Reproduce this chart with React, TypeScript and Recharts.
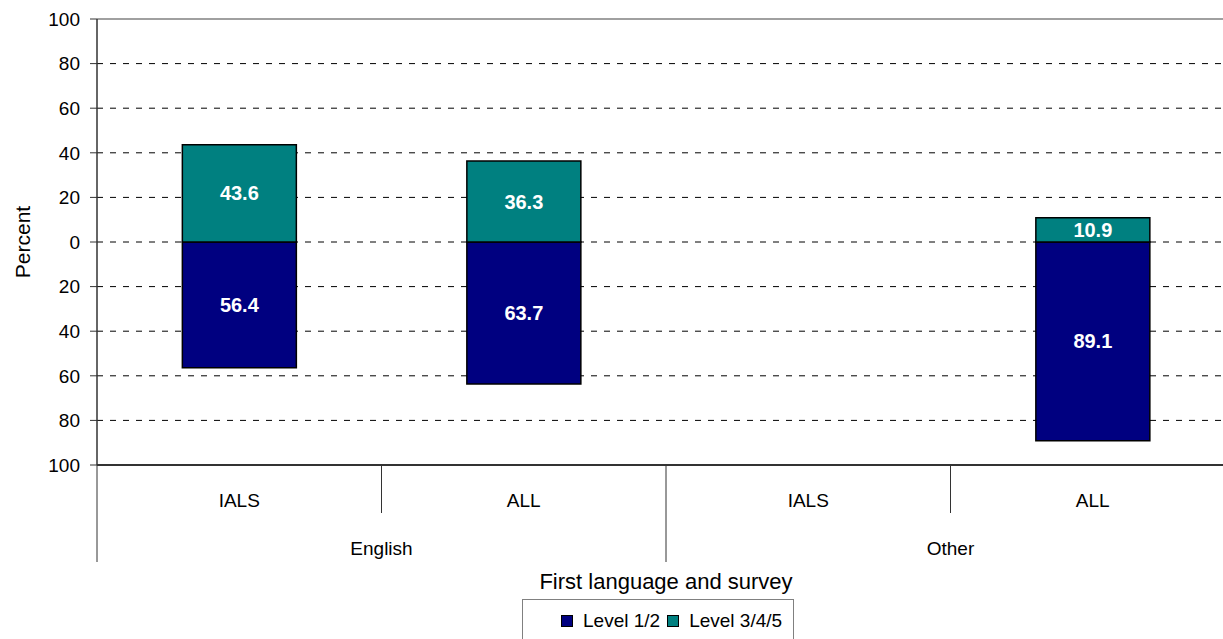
import React from "react";
import { BarChart, Bar, XAxis, YAxis, CartesianGrid, ReferenceLine, Legend, LabelList } from "recharts";

// survey per column, and the first language group each column belongs to
const surveys = ["IALS", "ALL", "IALS", "ALL"];
const languages = ["English", "English", "Other", "Other"];

// percent at each level (IALS for "Other" has no data)
const level12 = [56.4, 63.7, null, 89.1];
const level345 = [43.6, 36.3, null, 10.9];

const yTicks = [-100, -80, -60, -40, -20, 0, 20, 40, 60, 80, 100];
const gridValues = [-80, -60, -40, -20, 0, 20, 40, 60, 80];

const data = surveys.map((survey, i) => ({
    survey,
    lang: languages[i],
    level12: level12[i] == null ? null : -(level12[i] as number),
    level345: level345[i],
}));

const FONT = "'Liberation Sans', Arial, sans-serif";
const CHART_W = 1235;
const CHART_H = 639;
const Y_AXIS_W = 97;
const BAND = (CHART_W - Y_AXIS_W) / surveys.length;

const fmt = (v: any) => (v == null || v === 0 ? "" : Math.abs(Number(v)).toFixed(1));

const SurveyTick = (props: any) => {
    const { x, y, index, payload } = props;
    const left = x - BAND / 2;
    const groupStart = index % 2 === 0;
    return (
        <g>
            <line x1={left} x2={left} y1={y} y2={groupStart ? y + 97 : y + 48} stroke="#333" strokeWidth={1} />
            <text x={x} y={y + 42} textAnchor="middle" fontSize={19} fill="#000" fontFamily={FONT}>
                {payload.value}
            </text>
            {groupStart && (
                <text x={x + BAND / 2} y={y + 90} textAnchor="middle" fontSize={19} fill="#000" fontFamily={FONT}>
                    {languages[index]}
                </text>
            )}
        </g>
    );
};

const LegendBox = ({ payload }: any) => (
    <div
        style={{
            border: "1px solid #808080",
            height: 46,
            boxSizing: "border-box",
            paddingLeft: 38,
            paddingTop: 10,
            fontFamily: FONT,
            fontSize: 19,
            color: "#000",
            whiteSpace: "nowrap",
            background: "#fff",
        }}
    >
        {(payload || []).map((entry: any) => (
            <span key={entry.value} style={{ marginRight: 7 }}>
                <span
                    style={{
                        display: "inline-block",
                        width: 10,
                        height: 10,
                        background: entry.color,
                        border: "1px solid #000",
                        marginRight: 10,
                    }}
                />
                {entry.value}
            </span>
        ))}
    </div>
);

const App: React.FC = () => {
    return (
        <div style={{ position: "absolute", left: 0, top: 0, width: 1223, height: 639, overflow: "hidden", background: "#fff" }}>
            <BarChart
                width={CHART_W}
                height={CHART_H}
                data={data}
                stackOffset="sign"
                barCategoryGap="30%"
                margin={{ top: 19, right: 0, bottom: 0, left: 0 }}
                style={{ fontFamily: FONT }}
            >
                <CartesianGrid horizontal vertical={false} horizontalValues={gridValues} stroke="#000" strokeDasharray="6 7" />
                <ReferenceLine y={100} stroke="#808080" strokeWidth={1.5} />
                <XAxis
                    dataKey="survey"
                    height={174}
                    interval={0}
                    tickLine={false}
                    tickSize={0}
                    tickMargin={0}
                    axisLine={{ stroke: "#333", strokeWidth: 2 }}
                    tick={<SurveyTick />}
                    label={{ value: "First language and survey", position: "insideBottom", offset: 50, fontSize: 22, fill: "#000" }}
                />
                <YAxis
                    type="number"
                    domain={[-100, 100]}
                    ticks={yTicks}
                    interval={0}
                    width={Y_AXIS_W}
                    tickSize={7}
                    tickMargin={10}
                    tickFormatter={(v: number) => String(Math.abs(v))}
                    axisLine={{ stroke: "#333", strokeWidth: 1.5 }}
                    tickLine={{ stroke: "#333" }}
                    tick={{ fontSize: 19, fill: "#000" }}
                    label={{ value: "Percent", angle: -90, position: "center", dx: -26, fontSize: 21, fill: "#000" }}
                />
                <Legend
                    layout="horizontal"
                    verticalAlign="middle"
                    align="center"
                    wrapperStyle={{ left: 522, top: 599, width: 272, height: 46 }}
                    content={<LegendBox />}
                />
                <Bar dataKey="level12" name="Level 1/2" stackId="a" fill="#000080" stroke="#000" strokeWidth={1.5} isAnimationActive={false}>
                    <LabelList dataKey="level12" position="center" formatter={fmt} fill="#fff" fontSize={20} fontWeight="bold" />
                </Bar>
                <Bar dataKey="level345" name="Level 3/4/5" stackId="a" fill="#008080" stroke="#000" strokeWidth={1.5} isAnimationActive={false}>
                    <LabelList dataKey="level345" position="center" formatter={fmt} fill="#fff" fontSize={20} fontWeight="bold" />
                </Bar>
            </BarChart>
        </div>
    );
};

export default App;
